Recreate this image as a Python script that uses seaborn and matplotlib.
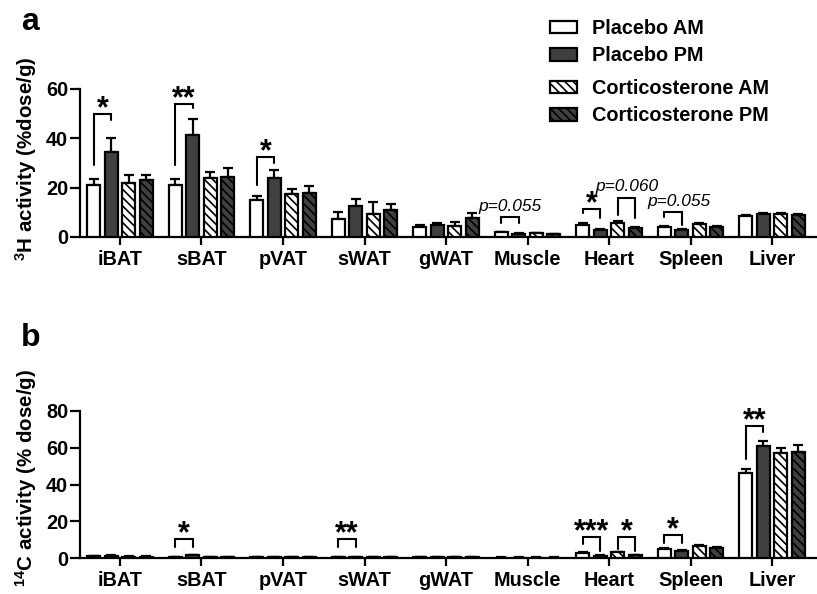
import numpy as np
import pandas as pd
import matplotlib
matplotlib.use("Agg")
import matplotlib.pyplot as plt
from matplotlib.patches import Patch
from matplotlib.container import BarContainer
import seaborn as sns

# ---------------- data ----------------
tissues = ["iBAT", "sBAT", "pVAT", "sWAT", "gWAT", "Muscle", "Heart", "Spleen", "Liver"]
groups = ["Placebo AM", "Placebo PM", "Corticosterone AM", "Corticosterone PM"]

# panel a: 3H activity (%dose/g)
h3_placebo_am = [21.0, 21.0, 15.0, 7.5, 3.9, 1.9, 5.0, 4.2, 8.6]
h3_placebo_pm = [34.5, 41.5, 24.0, 12.5, 4.7, 1.2, 3.0, 2.8, 9.5]
h3_cort_am = [22.0, 24.0, 17.5, 9.5, 4.6, 1.5, 5.7, 5.3, 9.5]
h3_cort_pm = [23.0, 24.5, 18.0, 11.0, 7.7, 1.1, 3.6, 4.2, 9.0]
h3_sem_placebo_am = [2.5, 2.7, 1.5, 2.5, 1.1, 0.3, 0.5, 0.4, 0.4]
h3_sem_placebo_pm = [5.5, 6.5, 3.0, 3.0, 1.0, 0.3, 0.4, 0.4, 0.4]
h3_sem_cort_am = [3.0, 2.5, 2.0, 4.5, 1.4, 0.3, 0.6, 0.5, 0.4]
h3_sem_cort_pm = [2.0, 3.5, 2.5, 2.5, 2.0, 0.3, 0.4, 0.4, 0.5]

# panel b: 14C activity (% dose/g)
c14_placebo_am = [1.0, 0.5, 0.4, 0.3, 0.3, 0.2, 2.7, 5.1, 46.0]
c14_placebo_pm = [1.2, 1.5, 0.6, 0.5, 0.3, 0.2, 1.3, 4.0, 61.0]
c14_cort_am = [0.8, 0.6, 0.6, 0.5, 0.3, 0.2, 3.1, 6.4, 57.0]
c14_cort_pm = [0.8, 0.6, 0.6, 0.5, 0.5, 0.2, 1.5, 5.5, 57.8]
c14_sem_placebo_am = [0.2, 0.2, 0.1, 0.1, 0.1, 0.1, 0.3, 0.4, 2.5]
c14_sem_placebo_pm = [0.2, 0.3, 0.1, 0.1, 0.1, 0.1, 0.3, 0.4, 2.8]
c14_sem_cort_am = [0.2, 0.2, 0.1, 0.1, 0.1, 0.1, 0.4, 0.5, 2.6]
c14_sem_cort_pm = [0.2, 0.2, 0.1, 0.1, 0.1, 0.1, 0.2, 0.5, 3.5]

# significance annotations: (tissue index, group i, group j, left leg y, right leg y, top y, label)
sig_a = [
    (0, 0, 1, 29, 47.5, 50, "*"),
    (1, 0, 1, 29, 52.5, 54, "**"),
    (2, 0, 1, 21, 30, 32.4, "*"),
    (5, 0, 1, 5.6, 5.6, 8.2, "p=0.055"),
    (6, 0, 1, 9.8, 7.6, 11.3, "*"),
    (6, 2, 3, 9.0, 7.7, 16.0, "p=0.060"),
    (7, 0, 1, 8.1, 5.0, 10.2, "p=0.055"),
]
sig_b = [
    (1, 0, 1, 6, 6, 10.3, "*"),
    (3, 0, 1, 6, 6, 10.3, "**"),
    (6, 0, 1, 7.6, 4.0, 11.4, "***"),
    (6, 2, 3, 5.0, 4.0, 11.4, "*"),
    (7, 0, 1, 8.2, 8.2, 12.5, "*"),
    (8, 0, 1, 53.8, 68.7, 71.7, "**"),
]

# ---------------- style ----------------
sns.set_style("ticks")
plt.rcParams["font.family"] = ["Liberation Sans", "DejaVu Sans"]
plt.rcParams["font.weight"] = "bold"
plt.rcParams["text.color"] = "black"
plt.rcParams["axes.edgecolor"] = "black"
plt.rcParams["axes.labelcolor"] = "black"
plt.rcParams["xtick.color"] = "black"
plt.rcParams["ytick.color"] = "black"
plt.rcParams["mathtext.fontset"] = "custom"
plt.rcParams["mathtext.rm"] = "Liberation Sans:bold"
plt.rcParams["mathtext.bf"] = "Liberation Sans:bold"
plt.rcParams["mathtext.it"] = "Liberation Sans:bold"
plt.rcParams["hatch.linewidth"] = 1.2
plt.rcParams["hatch.color"] = "black"

DARK = "#404040"
palette = {"Placebo AM": "white", "Placebo PM": DARK,
           "Corticosterone AM": "white", "Corticosterone PM": DARK}
hatches = [None, None, "\\\\\\\\", "\\\\\\\\"]

W, H = 817, 594
fig = plt.figure(figsize=(W / 100, H / 100), dpi=100)
ax_a = fig.add_axes([80 / W, 1 - 237 / H, 737 / W, 148 / H])
ax_b = fig.add_axes([80 / W, 1 - 558 / H, 737 / W, 147 / H])

FS = 14.3


def make_df(series):
    rows = []
    for g, vals in zip(groups, series):
        for t, v in zip(tissues, vals):
            rows.append({"tissue": t, "group": g, "value": v})
    return pd.DataFrame(rows)


def draw_panel(ax, means, sems, ylim, yticks, sigs):
    df = make_df(means)
    sns.barplot(data=df, x="tissue", y="value", hue="group", order=tissues,
                hue_order=groups, palette=palette, edgecolor="black",
                linewidth=1.6, width=0.86, gap=0.25, errorbar=None,
                legend=False, ax=ax, zorder=3)
    bar_conts = [c for c in ax.containers if isinstance(c, BarContainer)]
    centers = []
    for k, cont in enumerate(bar_conts):
        xs = []
        for p in cont.patches:
            if hatches[k]:
                p.set_hatch(hatches[k])
            xs.append(p.get_x() + p.get_width() / 2)
        centers.append(xs)
    for k in range(len(groups)):
        m = np.array(means[k])
        e = np.array(sems[k])
        ax.errorbar(centers[k], m, yerr=[np.zeros_like(e), e], fmt="none",
                    ecolor="black", elinewidth=1.6, capsize=3.5,
                    capthick=1.6, zorder=2)
    ax.set_xlim(-0.49, 8.55)
    ax.set_ylim(*ylim)
    ax.set_yticks(yticks)
    ax.set_xlabel("")
    ax.set_ylabel("")
    sns.despine(ax=ax)
    for s in ("left", "bottom"):
        ax.spines[s].set_linewidth(1.6)
    ax.tick_params(axis="y", width=1.6, length=7, labelsize=FS, pad=1.5)
    ax.tick_params(axis="x", width=1.6, length=6, labelsize=FS, pad=3.5)
    for lab in ax.get_xticklabels() + ax.get_yticklabels():
        lab.set_fontweight("bold")

    for (t, gi, gj, yl, yr, top, label) in sigs:
        x1 = centers[gi][t]
        x2 = centers[gj][t]
        ax.plot([x1, x1, x2, x2], [yl, top, top, yr], color="black",
                lw=1.5, clip_on=False, zorder=4, solid_joinstyle="miter")
        if label.startswith("p"):
            ax.annotate(label, xy=((x1 + x2) / 2 + (0.07 if t == 7 else 0), top),
                        xytext=(0, 4.5), textcoords="offset points",
                        ha="center", va="baseline", fontsize=12.5,
                        fontstyle="italic", fontweight="normal",
                        annotation_clip=False)
        else:
            ax.annotate(label, xy=((x1 + x2) / 2, top), xytext=(0, -2.5),
                        textcoords="offset points", ha="center",
                        va="baseline", fontsize=22, fontweight="bold",
                        annotation_clip=False)


draw_panel(ax_a,
           [h3_placebo_am, h3_placebo_pm, h3_cort_am, h3_cort_pm],
           [h3_sem_placebo_am, h3_sem_placebo_pm, h3_sem_cort_am, h3_sem_cort_pm],
           (0, 60), [0, 20, 40, 60], sig_a)
draw_panel(ax_b,
           [c14_placebo_am, c14_placebo_pm, c14_cort_am, c14_cort_pm],
           [c14_sem_placebo_am, c14_sem_placebo_pm, c14_sem_cort_am, c14_sem_cort_pm],
           (0, 80), [0, 20, 40, 60, 80], sig_b)

# y labels
fig.text(26 / W, 1 - 159 / H, r"$^{3}$H activity (%dose/g)", rotation=90,
         ha="center", va="center", fontsize=14.8, fontweight="bold")
fig.text(26 / W, 1 - 478 / H, r"$^{14}$C activity (% dose/g)", rotation=90,
         ha="center", va="center", fontsize=14.8, fontweight="bold")

# panel letters
fig.text(21 / W, 1 - 22 / H, "a", fontsize=23, fontweight="bold", va="center")
fig.text(21 / W, 1 - 338 / H, "b", fontsize=23, fontweight="bold", va="center")

# legends
handles = [Patch(facecolor=palette[g], edgecolor="black", linewidth=1.6,
                 hatch=hatches[i], label=g) for i, g in enumerate(groups)]
leg_kw = dict(frameon=False, handlelength=1.35, handleheight=0.62,
              handletextpad=0.75, labelspacing=0.42, borderpad=0, borderaxespad=0,
              prop={"weight": "bold", "size": FS})
leg1 = fig.legend(handles=handles[:2], loc="upper left",
                  bbox_to_anchor=(550 / W, 1 - 19 / H), **leg_kw)
leg2 = fig.legend(handles=handles[2:], loc="upper left",
                  bbox_to_anchor=(550 / W, 1 - 79 / H), **leg_kw)

fig.savefig("out.png", dpi=100)
